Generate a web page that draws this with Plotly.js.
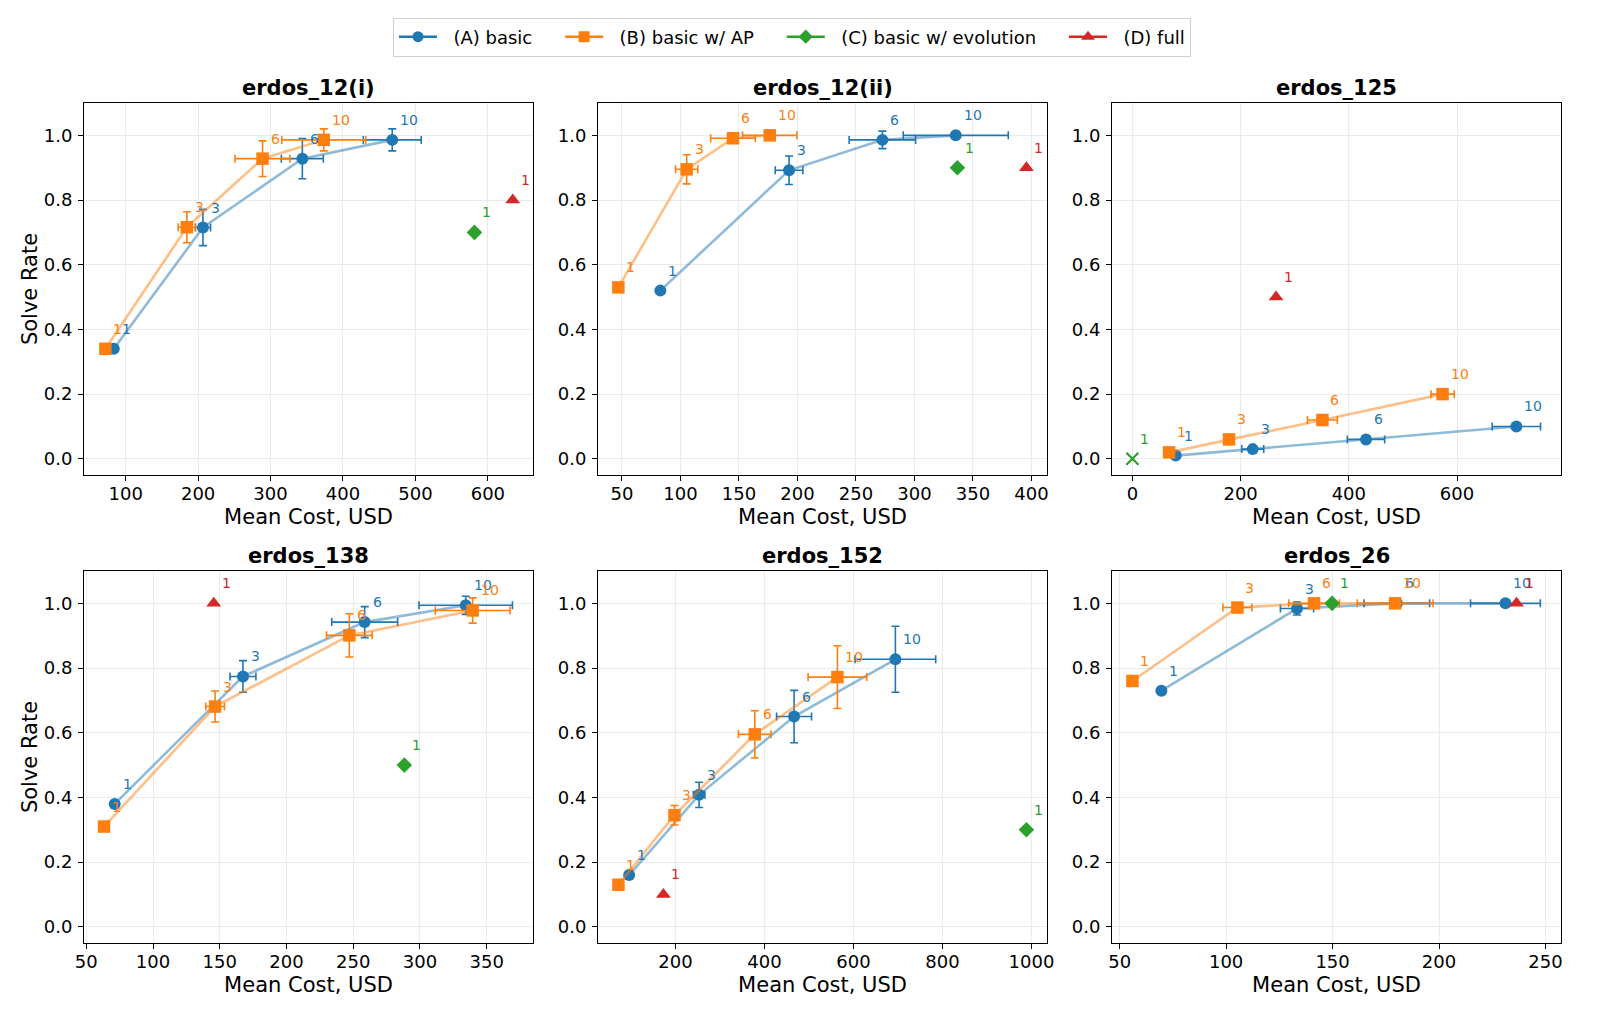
<!DOCTYPE html>
<html><head><meta charset="utf-8">
<script src="https://cdn.plot.ly/plotly-3.0.1.min.js"></script>
<style>html,body{margin:0;padding:0;background:#fff;} #chart{width:1606px;height:1012px;}</style>
</head><body><div id="chart"></div>
<script>
// ---------- DATA ----------
const panelTitles = ['erdos_12(i)', 'erdos_12(ii)', 'erdos_125', 'erdos_138', 'erdos_152', 'erdos_26'];
const kLabels = ['1', '3', '6', '10'];
const seriesNames = ['(A) basic', '(B) basic w/ AP', '(C) basic w/ evolution', '(D) full'];

// (A) basic: mean cost, solve rate, and their errors, one row per panel
const aCost = [
  [83.6, 206.7, 343.9, 468.0],
  [82.8, 192.8, 272.6, 335.3],
  [80.1, 222.4, 431.8, 709.7],
  [71.3, 167.4, 258.6, 334.3],
  [95.9, 253.2, 466.6, 694.3],
  [69.6, 133.3, 180.2, 231.2]
];
const aRate = [
  [0.34, 0.715, 0.928, 0.986],
  [0.52, 0.892, 0.986, 1.0],
  [0.01, 0.03, 0.06, 0.10],
  [0.38, 0.774, 0.942, 0.994],
  [0.16, 0.408, 0.65, 0.827],
  [0.73, 0.984, 1.0, 1.0]
];
const aCostErr = [
  [NaN, 10.5, 29, 40],
  [NaN, 11.8, 28.4, 44.9],
  [NaN, 20.3, 34.5, 44.7],
  [NaN, 9.7, 24.7, 35],
  [NaN, 13, 39.3, 90.6],
  [NaN, 7.8, 15.4, 16.4]
];
const aRateErr = [
  [NaN, 0.056, 0.062, 0.034],
  [NaN, 0.044, 0.027, 0],
  [NaN, 0, 0, 0],
  [NaN, 0.049, 0.048, 0.028],
  [NaN, 0.039, 0.081, 0.102],
  [NaN, 0.02, 0, 0]
];

// (B) basic w/ AP
const bCost = [
  [72.0, 184.5, 289.0, 373.5],
  [46.9, 105.3, 144.9, 176.3],
  [67.8, 178.6, 351.2, 573.3],
  [63.3, 146.5, 247.1, 339.5],
  [71.9, 197.8, 378.3, 564.0],
  [56.0, 105.3, 141.3, 179.4]
];
const bRate = [
  [0.34, 0.716, 0.928, 0.986],
  [0.53, 0.895, 0.991, 1.0],
  [0.02, 0.06, 0.12, 0.20],
  [0.31, 0.681, 0.901, 0.978],
  [0.13, 0.345, 0.595, 0.772],
  [0.76, 0.987, 1.0, 1.0]
];
const bCostErr = [
  [NaN, 12, 38, 58],
  [NaN, 9.5, 19.1, 23.2],
  [NaN, 0, 27.7, 21.6],
  [NaN, 7, 17.1, 28],
  [NaN, 8, 36.7, 65.9],
  [NaN, 6.8, 11.9, 17.8]
];
const bRateErr = [
  [NaN, 0.048, 0.055, 0.034],
  [NaN, 0.045, 0.01, 0],
  [NaN, 0, 0, 0],
  [NaN, 0.048, 0.067, 0.039],
  [NaN, 0.03, 0.073, 0.097],
  [NaN, 0.01, 0, 0]
];

// (C) basic w/ evolution and (D) full: one point per panel (k = 1)
const cCost = [581.5, 336.7, 0, 288.3, 988.7, 149.8];
const cRate = [0.70, 0.90, 0.0, 0.50, 0.30, 1.0];
const dCost = [634.3, 395.7, 265.5, 145.5, 173.0, 236.4];
const dRate = [0.80, 0.90, 0.50, 1.0, 0.10, 1.0];
const singleLabel = '1';

// x tick spacing per panel
const xTickStep = [100, 50, 200, 50, 200, 50];
const yTickVals = [0, 0.2, 0.4, 0.6, 0.8, 1.0];

// ---------- LAYOUT CONFIG ----------
const W = 1606, H = 1012;
const colDomains = [[84/W, 533/W], [598/W, 1047/W], [1112/W, 1561/W]];
const rowDomains = [[1 - 475/H, 1 - 103/H], [1 - 943/H, 1 - 571/H]];
const xRanges = [[42.5, 662.3], [29.5, 413.3], [-37.7, 792.2], [48.3, 384.7], [26, 1035], [46.4, 257.3]];
const yRange = [-0.05, 1.1];

const COL = {A: '#1f77b4', B: '#ff7f0e', C: '#2ca02c', D: '#d62728'};
const LIGHT = {A: 'rgba(31,119,180,0.5)', B: 'rgba(255,127,14,0.5)'};
const FONT = 'DejaVu Sans, Verdana, sans-serif';
const LEGEND_LEAD = '&nbsp;&nbsp;';
const LEGEND_PAD = '&nbsp;&nbsp;&nbsp;&nbsp;';

const traces = [];
const annotations = [];
const layout = {
  width: W, height: H,
  margin: {l: 0, r: 0, t: 0, b: 0},
  paper_bgcolor: '#fff', plot_bgcolor: '#fff',
  font: {family: FONT, size: 18, color: '#000'},
  showlegend: true,
  legend: {
    orientation: 'h', x: 792/W, xanchor: 'center', y: 1 - 17.5/H, yanchor: 'top',
    bordercolor: '#d0d0d0', borderwidth: 1, bgcolor: '#fff', itemwidth: 38,
    font: {family: FONT, size: 18, color: '#000'}
  },
  annotations: annotations
};

function addLabels(xs, ys, labels, color, xa, ya) {
  for (let i = 0; i < xs.length; i++) {
    annotations.push({
      x: xs[i], y: ys[i], xref: xa, yref: ya, text: labels[i],
      showarrow: false, xanchor: 'left', yanchor: 'bottom', xshift: 7, yshift: 11,
      font: {family: FONT, size: 14, color: color}, borderpad: 0
    });
  }
}

for (let p = 0; p < 6; p++) {
  const row = Math.floor(p / 3), col = p % 3;
  const sfx = p === 0 ? '' : String(p + 1);
  const xa = 'x' + sfx, ya = 'y' + sfx;
  const axisCommon = {
    showline: true, mirror: true, linecolor: '#000', linewidth: 1,
    ticks: 'outside', ticklen: 5, tickwidth: 1, tickcolor: '#000',
    showgrid: true, gridcolor: '#ebebeb', gridwidth: 1, zeroline: false,
    tickfont: {family: FONT, size: 18, color: '#000'}, fixedrange: true
  };
  layout['xaxis' + sfx] = Object.assign({}, axisCommon, {
    domain: colDomains[col], anchor: ya, range: xRanges[p],
    tickmode: 'linear', tick0: 0, dtick: xTickStep[p], ticklabelstandoff: -3,
    title: {text: 'Mean Cost, USD', font: {family: FONT, size: 21, color: '#000'}, standoff: 6}
  });
  layout['yaxis' + sfx] = Object.assign({}, axisCommon, {
    domain: rowDomains[row], anchor: xa, range: yRange,
    tickmode: 'array', tickvals: yTickVals, ticktext: yTickVals.map(v => v.toFixed(1)),
    ticklabelstandoff: 2,
    title: col === 0 ? {text: 'Solve Rate', font: {family: FONT, size: 21, color: '#000'}, standoff: 0} : {text: ''}
  });
  // panel title
  annotations.push({
    xref: xa + ' domain', yref: ya + ' domain', x: 0.5, y: 1, xanchor: 'center', yanchor: 'bottom',
    yshift: 1, showarrow: false, text: '<b>' + panelTitles[p] + '</b>',
    font: {family: FONT, size: 21, color: '#000'}
  });

  // (A) line + markers
  traces.push({x: aCost[p], y: aRate[p], xaxis: xa, yaxis: ya, mode: 'lines', showlegend: false,
    line: {color: LIGHT.A, width: 2.6}, hoverinfo: 'skip'});
  traces.push({x: aCost[p], y: aRate[p], xaxis: xa, yaxis: ya, mode: 'markers', showlegend: false,
    marker: {symbol: 'circle', size: 12, color: COL.A},
    error_x: {type: 'data', array: aCostErr[p], visible: true, color: COL.A, thickness: 1.6, width: 4},
    error_y: {type: 'data', array: aRateErr[p], visible: true, color: COL.A, thickness: 1.6, width: 4}});
  // (B) line + markers
  traces.push({x: bCost[p], y: bRate[p], xaxis: xa, yaxis: ya, mode: 'lines', showlegend: false,
    line: {color: LIGHT.B, width: 2.6}, hoverinfo: 'skip'});
  traces.push({x: bCost[p], y: bRate[p], xaxis: xa, yaxis: ya, mode: 'markers', showlegend: false,
    marker: {symbol: 'square', size: 12.5, color: COL.B},
    error_x: {type: 'data', array: bCostErr[p], visible: true, color: COL.B, thickness: 1.6, width: 4},
    error_y: {type: 'data', array: bRateErr[p], visible: true, color: COL.B, thickness: 1.6, width: 4}});
  // (C)
  const cFailed = cRate[p] === 0;
  traces.push({x: [cCost[p]], y: [cRate[p]], xaxis: xa, yaxis: ya, mode: 'markers', showlegend: false,
    marker: cFailed
      ? {symbol: 'x-thin-open', size: 12, color: COL.C, line: {color: COL.C, width: 2.2}}
      : {symbol: 'diamond', size: 12, color: COL.C}});
  // (D)
  traces.push({x: [dCost[p]], y: [dRate[p]], xaxis: xa, yaxis: ya, mode: 'markers', showlegend: false,
    marker: {symbol: 'triangle-up', size: 13, color: COL.D}});

  addLabels(aCost[p], aRate[p], kLabels, COL.A, xa, ya);
  addLabels(bCost[p], bRate[p], kLabels, COL.B, xa, ya);
  addLabels([cCost[p]], [cRate[p]], [singleLabel], COL.C, xa, ya);
  addLabels([dCost[p]], [dRate[p]], [singleLabel], COL.D, xa, ya);
}

// legend entries
const legendSpec = [
  {name: seriesNames[0], color: COL.A, symbol: 'circle', size: 11},
  {name: seriesNames[1], color: COL.B, symbol: 'square', size: 11},
  {name: seriesNames[2], color: COL.C, symbol: 'diamond', size: 11},
  {name: seriesNames[3], color: COL.D, symbol: 'triangle-up', size: 12}
];
legendSpec.forEach((s, i) => {
  traces.push({x: [null], y: [null], xaxis: 'x', yaxis: 'y', mode: 'lines+markers',
    name: LEGEND_LEAD + s.name + (i < legendSpec.length - 1 ? LEGEND_PAD : ''),
    showlegend: true, line: {color: s.color, width: 2.6},
    marker: {symbol: s.symbol, size: s.size, color: s.color}});
});

Plotly.newPlot('chart', traces, layout, {displayModeBar: false, staticPlot: true});
</script>
</body></html>
